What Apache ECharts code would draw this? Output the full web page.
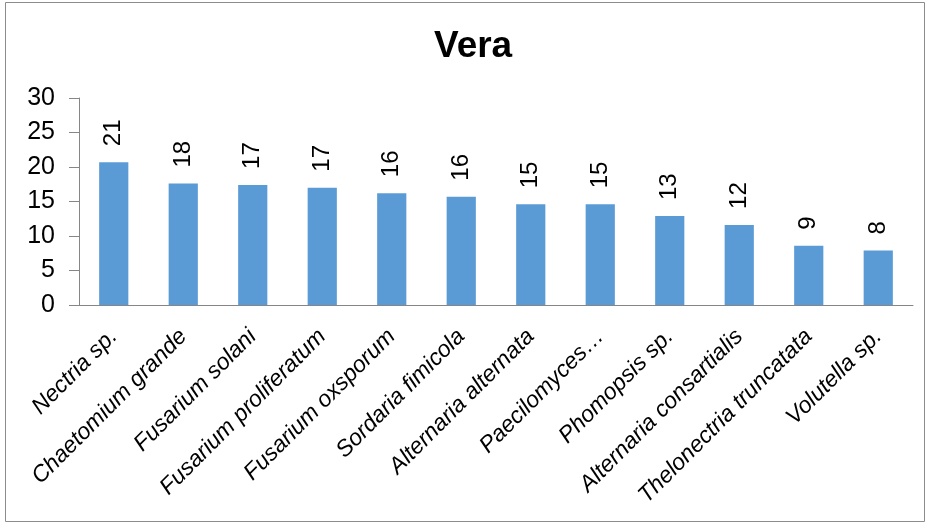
<!DOCTYPE html>
<html>
<head>
<meta charset="utf-8">
<script src="https://cdn.jsdelivr.net/npm/echarts@6/dist/echarts.min.js"></script>
<style>
  html, body { margin: 0; padding: 0; background: #fff; }
  #main { width: 929px; height: 525px; }
</style>
</head>
<body>
<div id="main"></div>
<script>
  // species on the x axis
  var species = ['Nectria sp.', 'Chaetomium grande', 'Fusarium solani', 'Fusarium proliferatum',
    'Fusarium oxsporum', 'Sordaria fimicola', 'Alternaria alternata', 'Paecilomyces…',
    'Phomopsis sp.', 'Alternaria consartialis', 'Thelonectria truncatata', 'Volutella sp.'];
  // bar heights (labels show them rounded)
  var counts = [20.7, 17.6, 17.4, 17.0, 16.2, 15.7, 14.6, 14.6, 12.9, 11.6, 8.6, 7.9];
  var yTicks = [0, 5, 10, 15, 20, 25, 30];

  var chart = echarts.init(document.getElementById('main'));
  var font = 'Liberation Sans, Arial, sans-serif';

  var option = {
    animation: false,
    title: {
      text: 'Vera',
      left: 429,
      top: 23,
      textStyle: { fontFamily: font, fontSize: 37, fontWeight: 'bold', color: '#000' }
    },
    graphic: [{
      type: 'rect',
      shape: { x: 5.5, y: 2.5, width: 919, height: 519 },
      style: { fill: 'none', stroke: '#8c8c8c', lineWidth: 1 },
      silent: true
    }],
    grid: { left: 79, right: 16, top: 98, bottom: 220 },
    xAxis: {
      type: 'category',
      data: species,
      axisLine: { lineStyle: { color: '#868686' } },
      axisTick: { length: 8, lineStyle: { color: '#868686' } },
      axisLabel: {
        rotate: 45,
        interval: 0,
        margin: 28,
        fontFamily: font,
        fontStyle: 'italic',
        fontSize: 23,
        color: '#000'
      }
    },
    yAxis: {
      type: 'value',
      min: yTicks[0],
      max: yTicks[yTicks.length - 1],
      interval: 5,
      splitLine: { show: false },
      axisLine: { show: true, lineStyle: { color: '#868686' } },
      axisTick: { show: true, length: 10, lineStyle: { color: '#868686' } },
      axisLabel: { margin: 24, fontFamily: font, fontSize: 25, color: '#000' }
    },
    series: [{
      type: 'bar',
      data: counts,
      barWidth: '42%',
      itemStyle: { color: '#5B9BD5' },
      label: {
        show: true,
        position: 'top',
        rotate: 90,
        align: 'left',
        verticalAlign: 'middle',
        distance: 16,
        fontFamily: font,
        fontSize: 24,
        color: '#000',
        formatter: function (p) { return Math.round(p.value); }
      }
    }]
  };

  chart.setOption(option);
</script>
</body>
</html>
